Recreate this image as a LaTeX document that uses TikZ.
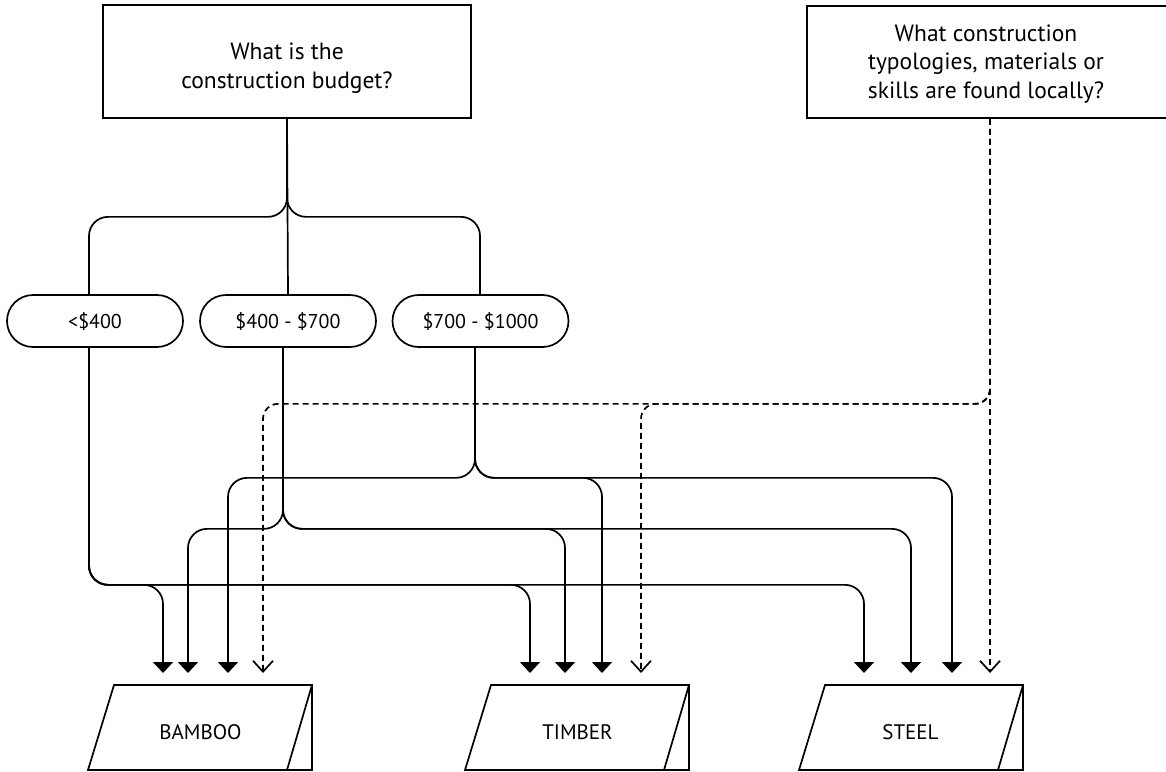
\documentclass[tikz,border=0pt]{standalone}
\usepackage{fontspec}
\setmainfont{PT Sans}
\usetikzlibrary{arrows.meta,shapes.misc}
\begin{document}
\begin{tikzpicture}[x=1pt,y=-1pt,
  line width=1.7pt,
  qtxt/.style={font=\fontsize{23.5}{28.5}\selectfont, align=center, inner sep=0pt},
  qbox/.style={draw, rectangle, inner sep=0pt},
  pill/.style={draw, rounded rectangle, minimum width=176pt, minimum height=52pt, inner sep=0pt, font=\fontsize{20}{24}\selectfont},
  lbl/.style={inner sep=0pt, font=\fontsize{21}{25}\selectfont},
  link/.style={rounded corners=19pt, -{Triangle[width=20pt,length=11pt]}},
  plain/.style={rounded corners=19pt},
  dlink/.style={rounded corners=15pt, dash pattern=on 6pt off 4pt, -{Straight Barb[width=20pt,length=11pt]}},
  slant/.style={line join=miter},
]
\useasboundingbox (0,0) rectangle (1166,771);
\clip (0,0) rectangle (1166,771);

% question boxes
\node[qbox, minimum width=368pt, minimum height=113pt] (budget) at (287,61.5) {};
\node[qtxt] (budgettext) at (287,68) {What is the\\construction budget?};
\node[qbox, minimum width=360pt, minimum height=112pt] (local) at (987,62) {};
\node[qtxt] (localtext) at (986,64) {What construction\\typologies, materials or\\skills are found locally?};

% budget ranges
\node[pill] (p1) at (95,321) {<\$400};
\node[pill] (p2) at (288,321) {\$400 - \$700};
\node[pill] (p3) at (480.5,321) {\$700 - \$1000};

% material labels
\node[lbl] (bamboo) at (200.5,732) {BAMBOO};
\node[lbl] (timber) at (577.5,732) {TIMBER};
\node[lbl] (steel) at (910.5,732) {STEEL};

% material shapes
\foreach \dx in {0,377,711}{
  \draw[slant] (88+\dx,770) -- (114+\dx,685) -- (312+\dx,685) -- (312+\dx,770) -- cycle;
  \draw (312+\dx,685) -- (287+\dx,770);
}

% arrow end points
\coordinate (bam1) at (163,673);
\coordinate (bam2) at (188,673);
\coordinate (bam3) at (228,673);
\coordinate (bam4) at (263,673);
\coordinate (tim1) at (530,673);
\coordinate (tim2) at (565,673);
\coordinate (tim3) at (602,673);
\coordinate (tim4) at (641,673);
\coordinate (ste1) at (864,673);
\coordinate (ste2) at (911,673);
\coordinate (ste3) at (952,673);
\coordinate (ste4) at (990,673);

% budget tree
\draw (budget.south) -- (p2.north);
\draw[plain] (budget.south) -- ++(0,98) -| ([xshift=-6pt]p1.north);
\draw[plain] (budget.south) -- ++(0,98) -| ([xshift=-0.5pt]p3.north);

% <$400
\foreach \t in {bam1,tim1,ste1}
  \draw[link] ([xshift=-6pt]p1.south) -- ++(0,237) -| (\t);
% $400 - $700
\foreach \t in {bam2,tim2,ste2}
  \draw[link] ([xshift=-5pt]p2.south) -- ++(0,181) -| (\t);
% $700 - $1000
\foreach \t in {bam3,tim3,ste3}
  \draw[link] ([xshift=-5.5pt]p3.south) -- ++(0,130) -| (\t);

% local materials (dashed)
\draw[dlink] (ste4 |- local.south) -- (ste4);
\foreach \t in {bam4,tim4}
  \draw[dlink] (ste4 |- local.south) -- ++(0,285) -| (\t);
\end{tikzpicture}
\end{document}
